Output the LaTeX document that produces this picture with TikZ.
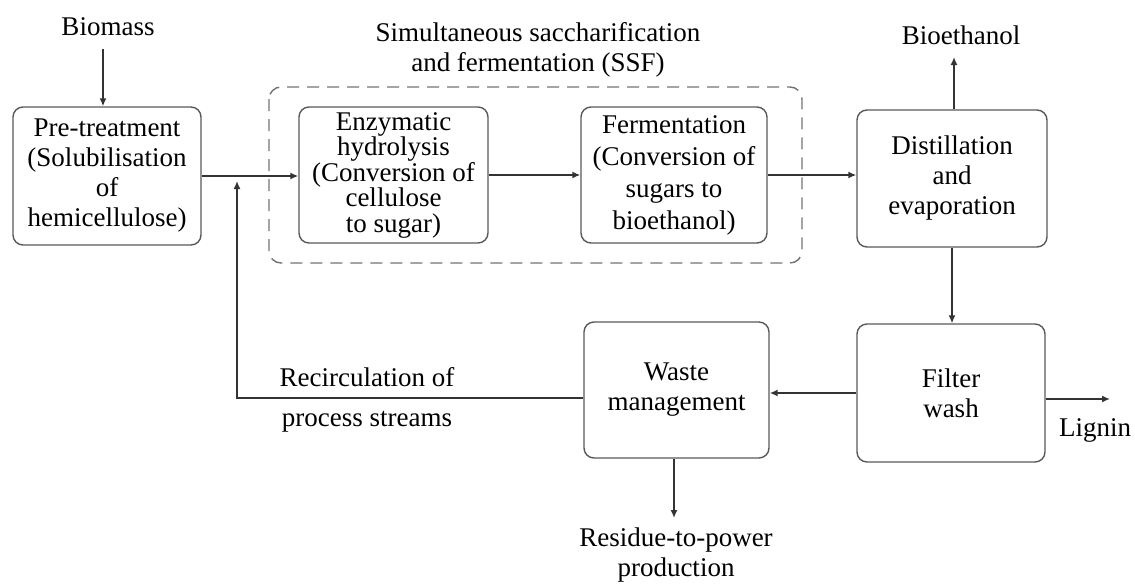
\documentclass[tikz,border=0pt]{standalone}
\usepackage{fontspec}
\setmainfont{Liberation Serif}
\usetikzlibrary{arrows.meta}
\begin{document}
\begin{tikzpicture}[x=1pt,y=-1pt,
  every node/.style={font=\fontsize{27}{30}\selectfont, text=black, align=center, inner sep=1pt},
  proc/.style={draw=black!65, line width=1.4pt, rounded corners=10pt, minimum width=#1},
  flow/.style={draw=black!80, line width=1.5pt, -{Latex[length=8pt,width=7pt]}},
  line/.style={draw=black!70, line width=1.5pt}
]
\useasboundingbox (0,0) rectangle (1135,584);
% SSF dashed frame
\draw[draw=black!55, line width=1.4pt, dash pattern=on 12pt off 8pt, rounded corners=12pt] (269,87) rectangle (802,263);
\node (ssf) at (538,50) {Simultaneous saccharification\\and fermentation (SSF)};
% process boxes
\node[proc=188pt, minimum height=138pt] (pre) at (107,176) {Pre-treatment\\(Solubilisation\\of\\hemicellulose)};
\node[proc=189pt, minimum height=136pt, font=\fontsize{27}{25.5}\selectfont] (enz) at (393.5,175) {Enzymatic\\hydrolysis\\(Conversion of\\cellulose\\to sugar)};
\node[proc=186pt, minimum height=136pt, font=\fontsize{27}{32}\selectfont] (fer) at (674,175) {Fermentation\\(Conversion of\\sugars to\\bioethanol)};
\node[proc=190pt, minimum height=137pt] (dist) at (952,178.5) {Distillation\\and\\evaporation};
\node[proc=188pt, minimum height=138pt] (filt) at (951,393) {Filter\\wash};
\node[proc=185pt, minimum height=136pt] (waste) at (676.5,390) {Waste\\management};
% labels
\node (bio) at (108,27) {Biomass};
\node (beth) at (961,35) {Bioethanol};
\node (lig) at (1095,430) {Lignin};
\node (res) at (676,555) {Residue-to-power\\production};
\node (rec) at (367,400) {Recirculation of\\[10pt]process streams};
% coordinates for free ends
\coordinate (bioend) at (103,49);
\coordinate (bethend) at (954,57);
\coordinate (ligend) at (1110,399);
\coordinate (resend) at (674,518);
\coordinate (rc) at (237,398);
\coordinate (rt) at (237,181);
% connectors
\draw[flow] (bioend) -- (bioend |- pre.north);
\draw[flow] (pre.east) -- (pre.east -| enz.west);
\draw[flow] (enz.east) -- (enz.east -| fer.west);
\draw[flow] (fer.east) -- (fer.east -| dist.west);
\draw[flow] (bethend |- dist.north) -- (bethend);
\draw[flow] (dist.south) -- (dist.south |- filt.north);
\draw[flow] (filt.west) -- (filt.west -| waste.east);
\draw[flow] (ligend -| filt.east) -- (ligend);
\draw[flow] (resend |- waste.south) -- (resend);
\draw[flow] (rc -| waste.west) -- (rc) -- (rt);
\end{tikzpicture}
\end{document}
